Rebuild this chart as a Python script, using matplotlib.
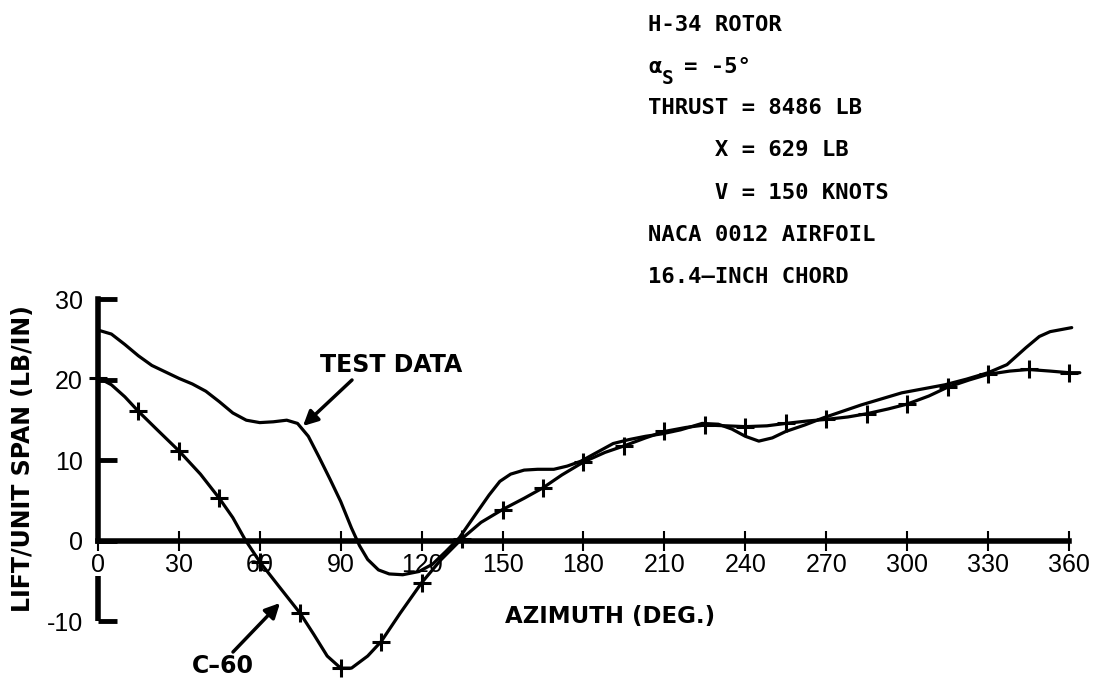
import matplotlib
matplotlib.use("Agg")
import matplotlib.pyplot as plt

# ---- data ----
azimuth_ticks = [0, 30, 60, 90, 120, 150, 180, 210, 240, 270, 300, 330, 360]
lift_ticks = [-10, 0, 10, 20, 30]

test_az = [0, 5, 10, 15, 20, 25, 30, 35, 40, 45, 50, 55, 60, 65, 70, 74, 78, 82, 86, 90,
           94, 97, 100, 104, 108, 113, 119, 124, 129, 134, 140, 145, 149, 153, 158, 163,
           169, 174, 179, 185, 191, 197, 203, 209, 216, 224, 230, 235, 240, 245, 250, 255,
           262, 269, 276, 283, 290, 298, 306, 314, 322, 330, 337, 344, 349, 353, 361]
test_lift = [26.2, 25.7, 24.4, 23.0, 21.8, 21.0, 20.2, 19.5, 18.6, 17.3, 15.9, 15.0, 14.7,
             14.8, 15.0, 14.6, 13.0, 10.4, 7.7, 4.9, 1.6, -0.6, -2.3, -3.6, -4.1, -4.2,
             -3.8, -2.9, -1.3, 0.4, 3.3, 5.7, 7.4, 8.3, 8.8, 8.9, 8.9, 9.3, 9.9, 11.0, 12.1,
             12.6, 13.0, 13.3, 13.8, 14.6, 14.5, 13.9, 13.0, 12.4, 12.8, 13.6, 14.4, 15.3,
             16.1, 16.9, 17.6, 18.4, 18.9, 19.4, 20.1, 20.9, 21.9, 24.0, 25.4, 26.0, 26.5]

c60_az = [0, 5, 10, 15, 22, 30, 38, 45, 50, 54.5, 60, 67, 75, 80, 85, 90, 94, 100, 105,
          112, 120, 127, 135, 142, 150, 158, 165, 172, 180, 188, 195, 203, 210, 218, 225,
          233, 240, 248, 255, 263, 270, 278, 285, 293, 300, 308, 315, 323, 330, 338, 345,
          353, 360, 364]
c60_lift = [20.3, 19.4, 17.9, 16.1, 13.8, 11.2, 8.3, 5.3, 2.9, 0.2, -2.6, -5.6, -9.0,
            -11.6, -14.3, -15.8, -15.8, -14.3, -12.5, -9.0, -5.2, -2.4, 0.3, 2.3, 3.9, 5.3,
            6.6, 8.2, 9.8, 11.0, 11.8, 12.8, 13.6, 14.1, 14.4, 14.3, 14.2, 14.3, 14.6, 14.9,
            15.1, 15.4, 15.8, 16.4, 17.0, 18.0, 19.1, 20.0, 20.7, 21.1, 21.3, 21.1, 20.9, 20.9]

c60_mark_az = [0, 15, 30, 45, 60, 75, 90, 105, 120, 135, 150, 165, 180, 195, 210, 225,
               240, 255, 270, 285, 300, 315, 330, 345, 360]
c60_mark_lift = [20.3, 16.1, 11.2, 5.3, -2.6, -9.0, -15.8, -12.5, -5.2, 0.3, 3.9, 6.6, 9.8,
                 11.8, 13.6, 14.4, 14.2, 14.6, 15.1, 15.8, 17.0, 19.1, 20.7, 21.3, 20.9]

info_lines = ["H-34 ROTOR", None, "THRUST = 8486 LB", "     X = 629 LB",
              "     V = 150 KNOTS", "NACA 0012 AIRFOIL", "16.4\u2013INCH CHORD"]

W, H = 1096, 681
fig = plt.figure(figsize=(W / 100, H / 100), dpi=100)
ax = fig.add_axes([0, 0, 1, 1])
ax.set_xlim(-36.3, 370.0)
ax.set_ylim(-17.4, 67.2)
ax.patch.set_alpha(0)

def px(x, y):
    return (x / W, 1 - y / H)

# curves
ax.plot(test_az, test_lift, color="black", lw=2.3, solid_capstyle="round",
        solid_joinstyle="round")
ax.plot(c60_az, c60_lift, color="black", lw=2.3, solid_capstyle="round",
        solid_joinstyle="round")
ax.plot(c60_mark_az, c60_mark_lift, linestyle="none", marker="+", ms=13, mew=2.2,
        color="black")

# axes
for s in ["top", "right"]:
    ax.spines[s].set_visible(False)
ax.spines["left"].set_position(("data", 0))
ax.spines["bottom"].set_position(("data", 0))
ax.spines["left"].set_bounds(0, 30)
ax.spines["bottom"].set_bounds(0, 360)
ax.spines["left"].set_linewidth(4)
ax.spines["bottom"].set_linewidth(4)
ax.vlines(0, lift_ticks[0], -4.3, color="black", lw=4)

ax.set_xticks(azimuth_ticks)
ax.set_xticklabels([str(v) for v in azimuth_ticks])
ax.set_yticks(lift_ticks)
ax.set_yticklabels([str(v) for v in lift_ticks])
ax.tick_params(axis="x", direction="inout", length=14, width=1.5, pad=2,
               labelsize=18)
ax.tick_params(axis="y", direction="in", length=14, width=3.5, pad=11,
               labelsize=18)
for lab in ax.get_xticklabels() + ax.get_yticklabels():
    lab.set_family("Liberation Sans")

# axis titles
fig.text(*px(610, 617), "AZIMUTH (DEG.)", ha="center", va="center",
         fontsize=16.5, fontweight="bold", family="DejaVu Sans")
fig.text(*px(23, 459), "LIFT/UNIT SPAN (LB/IN)", ha="center", va="center",
         rotation=90, fontsize=17, fontweight="bold", family="DejaVu Sans")

# annotations
fig.text(*px(391, 365), "TEST DATA", ha="center", va="center", fontsize=17,
         fontweight="bold", family="DejaVu Sans")
fig.text(*px(223, 666), "C\u201360", ha="center", va="center", fontsize=17,
         fontweight="bold", family="DejaVu Sans")
arrow = dict(arrowstyle="-|>", lw=2.5, mutation_scale=22, color="black",
             shrinkA=0, shrinkB=0)
ax.annotate("", xy=px(303, 426), xycoords="figure fraction",
            xytext=px(352, 380), textcoords="figure fraction", arrowprops=arrow)
ax.annotate("", xy=px(280, 603), xycoords="figure fraction",
            xytext=px(233, 652), textcoords="figure fraction", arrowprops=arrow)

# info block
ys = [25, 67, 108, 150, 193, 235, 277]
mono = dict(family="DejaVu Sans Mono", fontweight="bold", fontsize=16,
            va="center", ha="left")
for line, y in zip(info_lines, ys):
    if line is not None:
        fig.text(*px(648, y), line, **mono)
fig.text(*px(648, 67), "\u03b1", **mono)
fig.text(*px(662, 79), "S", **dict(mono, fontsize=14))
fig.text(*px(684, 67), "= -5\u00b0", **mono)

fig.savefig("out.png", dpi=100)
